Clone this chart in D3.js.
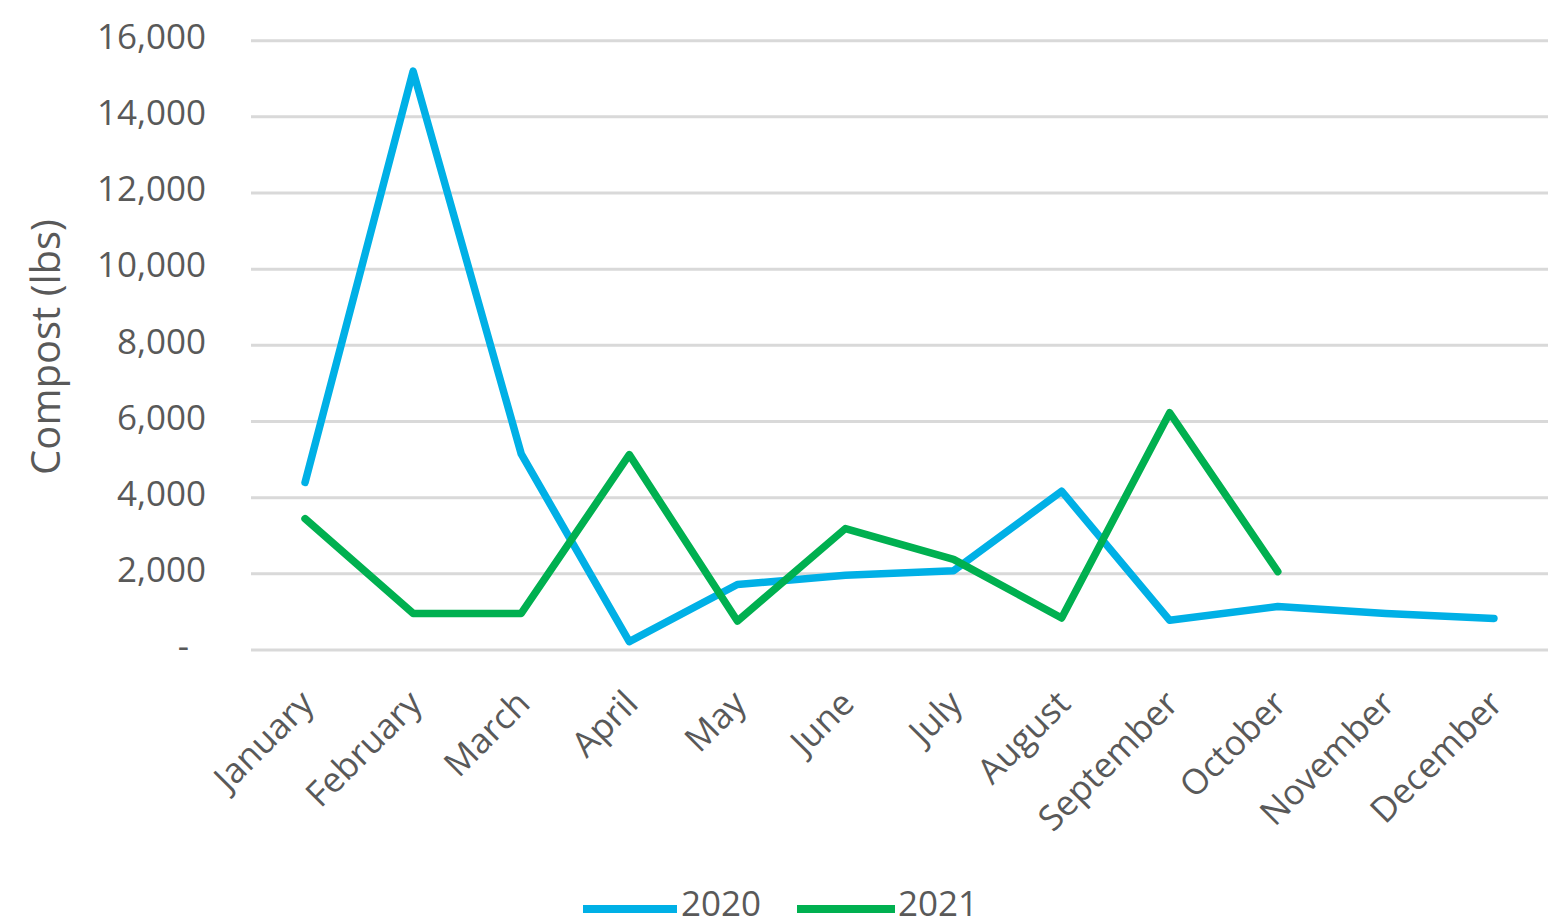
<!DOCTYPE html>
<html>
<head>
<meta charset="utf-8">
<script src="https://cdn.jsdelivr.net/npm/d3@7/dist/d3.min.js"></script>
<style>
  html, body { margin: 0; padding: 0; background: #fff; }
  svg { display: block; }
  text { font-family: "Open Sans", "Liberation Sans", sans-serif; fill: #595959; }
</style>
</head>
<body>
<svg id="chart" width="1556" height="923"></svg>
<script>
const months = ["January","February","March","April","May","June","July","August","September","October","November","December"];
const series2020 = [4400, 15200, 5150, 220, 1720, 1960, 2080, 4170, 780, 1140, 960, 830];
const series2021 = [3450, 960, 960, 5130, 760, 3190, 2380, 840, 6230, 2060];
const seriesNames = ["2020", "2021"];
const seriesColors = ["#00B0E6", "#00B050"];
const yTicks = [0, 2000, 4000, 6000, 8000, 10000, 12000, 14000, 16000];
const yTitle = "Compost (lbs)";

(function () {
const svg = d3.select("#chart");
const pLeft = 251, pRight = 1548, pTop = 40.7, pBottom = 650;

const x = d3.scaleBand().domain(months).range([pLeft, pRight]).padding(0);
const y = d3.scaleLinear().domain([0, 16000]).range([pBottom, pTop]);

// gridlines
svg.append("g").selectAll("line").data(yTicks).join("line")
  .attr("x1", pLeft).attr("x2", pRight)
  .attr("y1", d => y(d)).attr("y2", d => y(d))
  .attr("stroke", "#D9D9D9").attr("stroke-width", 3);

// y axis
const yAxis = d3.axisLeft(y).tickValues(yTicks).tickSize(0).tickPadding(45)
  .tickFormat(d => d === 0 ? "-" : d3.format(",")(d));
const gy = svg.append("g").attr("transform", `translate(${pLeft},0)`).call(yAxis);
gy.select(".domain").remove();
gy.selectAll("text")
  .style("font-size", "35px")
  .style("font-family", '"Open Sans", sans-serif')
  .attr("fill", "#595959")
  .attr("dy", "0.22em")
  .attr("x", d => d === 0 ? -62 : -45);

// x axis labels
const xAxis = d3.axisBottom(x).tickSize(0).tickPadding(0);
const gx = svg.append("g").attr("transform", `translate(0,${pBottom})`).call(xAxis);
gx.select(".domain").remove();
gx.selectAll("text")
  .style("font-size", "35px")
  .style("font-family", '"Open Sans", sans-serif')
  .attr("fill", "#595959")
  .attr("text-anchor", "end")
  .attr("y", 0).attr("dy", "0.35em")
  .attr("transform", "translate(2,47) rotate(-45)");

// y title
svg.append("text")
  .attr("transform", "translate(45.5,347) rotate(-90)")
  .attr("text-anchor", "middle").attr("dy", "0.35em")
  .style("font-size", "40px")
  .text(yTitle);

// lines
const line = d3.line()
  .x((d, i) => x(months[i]) + x.bandwidth() / 2)
  .y(d => y(d))
  .curve(d3.curveLinear);

[series2020, series2021].forEach((s, k) => {
  svg.append("path").datum(s)
    .attr("d", line)
    .attr("fill", "none")
    .attr("stroke", seriesColors[k])
    .attr("stroke-width", 7.5)
    .attr("stroke-linejoin", "round")
    .attr("stroke-linecap", "round");
});

// legend
const legendItems = [
  { name: seriesNames[0], color: seriesColors[0], x1: 583, x2: 677, tx: 681 },
  { name: seriesNames[1], color: seriesColors[1], x1: 797, x2: 895, tx: 898 }
];
const lg = svg.append("g");
legendItems.forEach(it => {
  lg.append("line").attr("x1", it.x1).attr("x2", it.x2)
    .attr("y1", 909).attr("y2", 909)
    .attr("stroke", it.color).attr("stroke-width", 8);
  lg.append("text").attr("x", it.tx).attr("y", 916)
    .style("font-size", "35px").text(it.name);
});
})();
</script>
</body>
</html>
